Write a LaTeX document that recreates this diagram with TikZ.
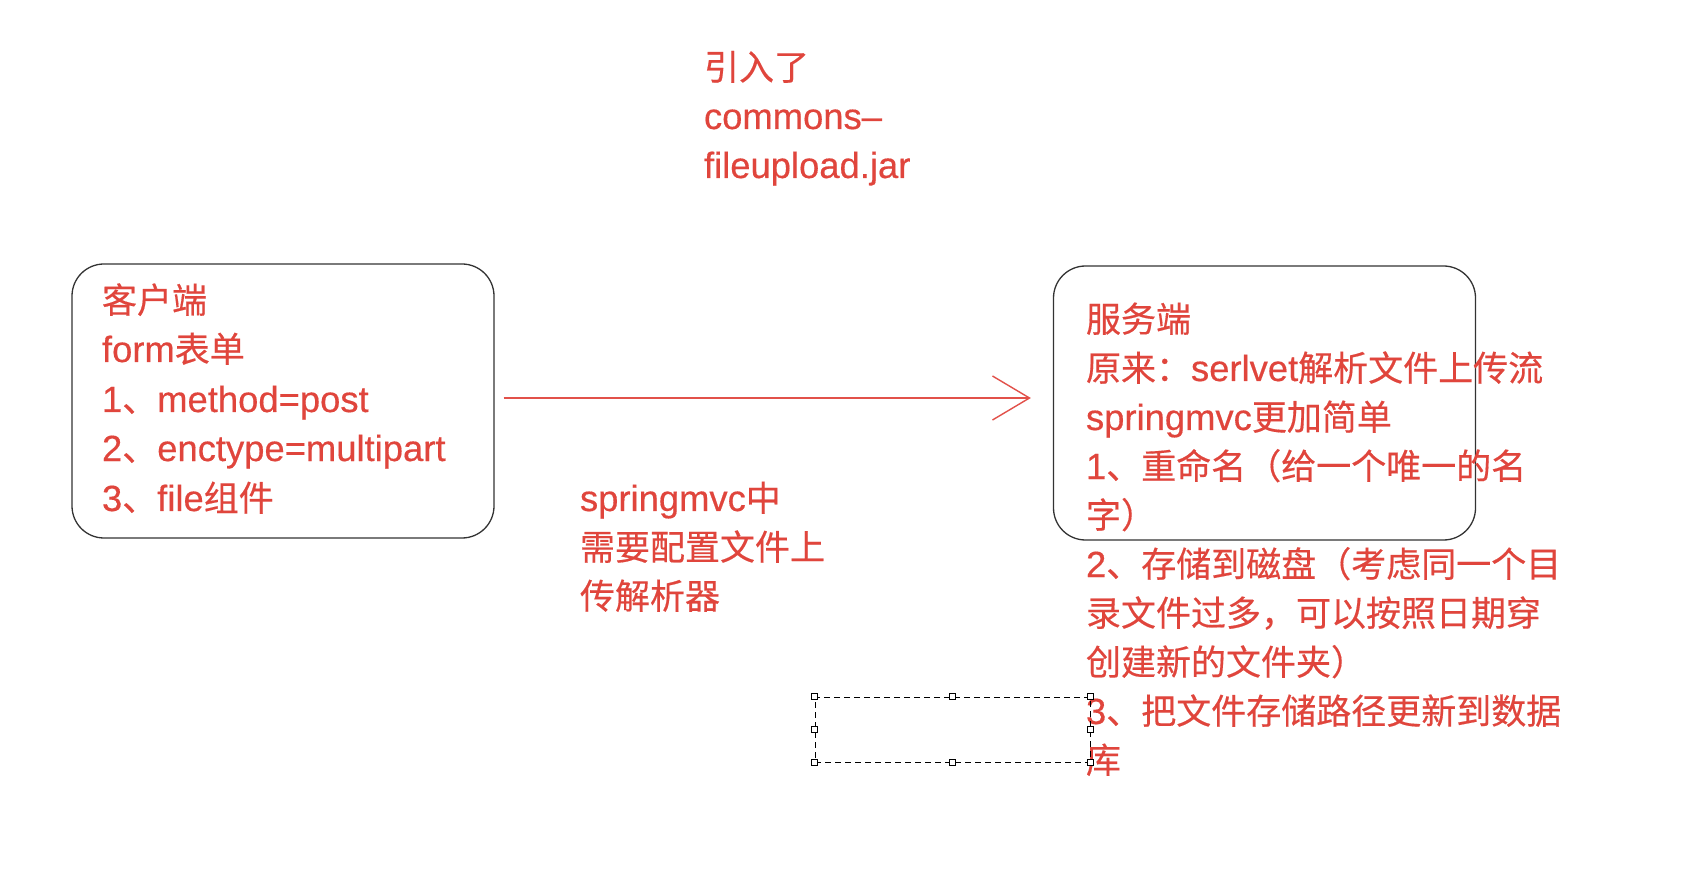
\documentclass[tikz,border=0pt]{standalone}
\usepackage{fontspec}
\setmainfont{Liberation Sans}[Scale=1.04, FakeBold=0.4]
\newfontfamily\zhfont{Noto Sans CJK SC}[FakeBold=0.4]
\newcommand{\zh}[1]{{\zhfont #1}}
\usetikzlibrary{arrows.meta}
\definecolor{txtred}{HTML}{E0453C}
\definecolor{linered}{HTML}{E2514A}
\definecolor{boxgray}{HTML}{333333}
\tikzset{
  txt/.style={anchor=base west, inner sep=0pt, outer sep=0pt, text=txtred, font=\fontsize{35}{49}\selectfont},
  roundbox/.style={draw=boxgray, line width=1.3pt, rounded corners=32pt, minimum width=422pt, minimum height=274pt, inner sep=0pt},
  selbox/.style={draw=black, line width=1pt, dash pattern=on 6pt off 4pt, minimum width=275pt, minimum height=65pt, inner sep=0pt},
  handle/.style={draw=black, fill=white, line width=0.9pt, minimum size=6pt, inner sep=0pt},
  flowarrow/.style={draw=linered, line width=1.4pt, -{Straight Barb[length=37pt,width=44pt,line width=1.4pt]}}
}
\begin{document}
\begin{tikzpicture}[x=1pt,y=-1pt]
\useasboundingbox[fill=white] (0,0) rectangle (1682,890);

% boxes
\node[roundbox] (lbox) at (283,401) {};
\node[roundbox] (rbox) at (1264.5,403) {};

% arrow
\draw[flowarrow, shorten <=9pt, shorten >=22pt] ([yshift=3pt]lbox.east) -- ([yshift=3pt]lbox.east -| rbox.west);

% top text
\node[txt] (t1) at (704,80) {\zh{引入了}};
\node[txt] (t2) at (704,129) {commons–};
\node[txt] (t3) at (704,178) {fileupload.jar};

% left box text
\node[txt] (l1) at (102,313) {\zh{客户端}};
\node[txt] (l2) at (102,362) {form\zh{表单}};
\node[txt] (l3) at (102,412) {1\zh{、}method=post};
\node[txt] (l4) at (102,461) {2\zh{、}enctype=multipart};
\node[txt] (l5) at (102,511) {3\zh{、}file\zh{组件}};

% middle text
\node[txt] (m1) at (580,511) {springmvc\zh{中}};
\node[txt] (m2) at (580,560) {\zh{需要配置文件上}};
\node[txt] (m3) at (580,609) {\zh{传解析器}};

% right text
\node[txt] (r1) at (1086,332) {\zh{服务端}};
\node[txt] (r2) at (1086,381) {\zh{原来：}serlvet\zh{解析文件上传流}};
\node[txt] (r3) at (1086,430) {springmvc\zh{更加简单}};
\node[txt] (r4) at (1086,479) {1\zh{、重命名（给一个唯一的名}};
\node[txt] (r5) at (1086,528) {\zh{字）}};
\node[txt] (r6) at (1086,577) {2\zh{、存储到磁盘（考虑同一个目}};
\node[txt] (r7) at (1086,626) {\zh{录文件过多，可以按照日期穿}};
\node[txt] (r8) at (1086,675) {\zh{创建新的文件夹）}};
\node[txt] (r9) at (1086,724) {3\zh{、把文件存储路径更新到数据}};
\node[txt] (r10) at (1086,773) {\zh{库}};

% selection rectangle with handles
\node[selbox] (sel) at (952.5,729.5) {};
\foreach \a [count=\i] in {north west,north,north east,east,south east,south,south west,west}
  \node[handle] (h\i) at (sel.\a) {};
\end{tikzpicture}
\end{document}
